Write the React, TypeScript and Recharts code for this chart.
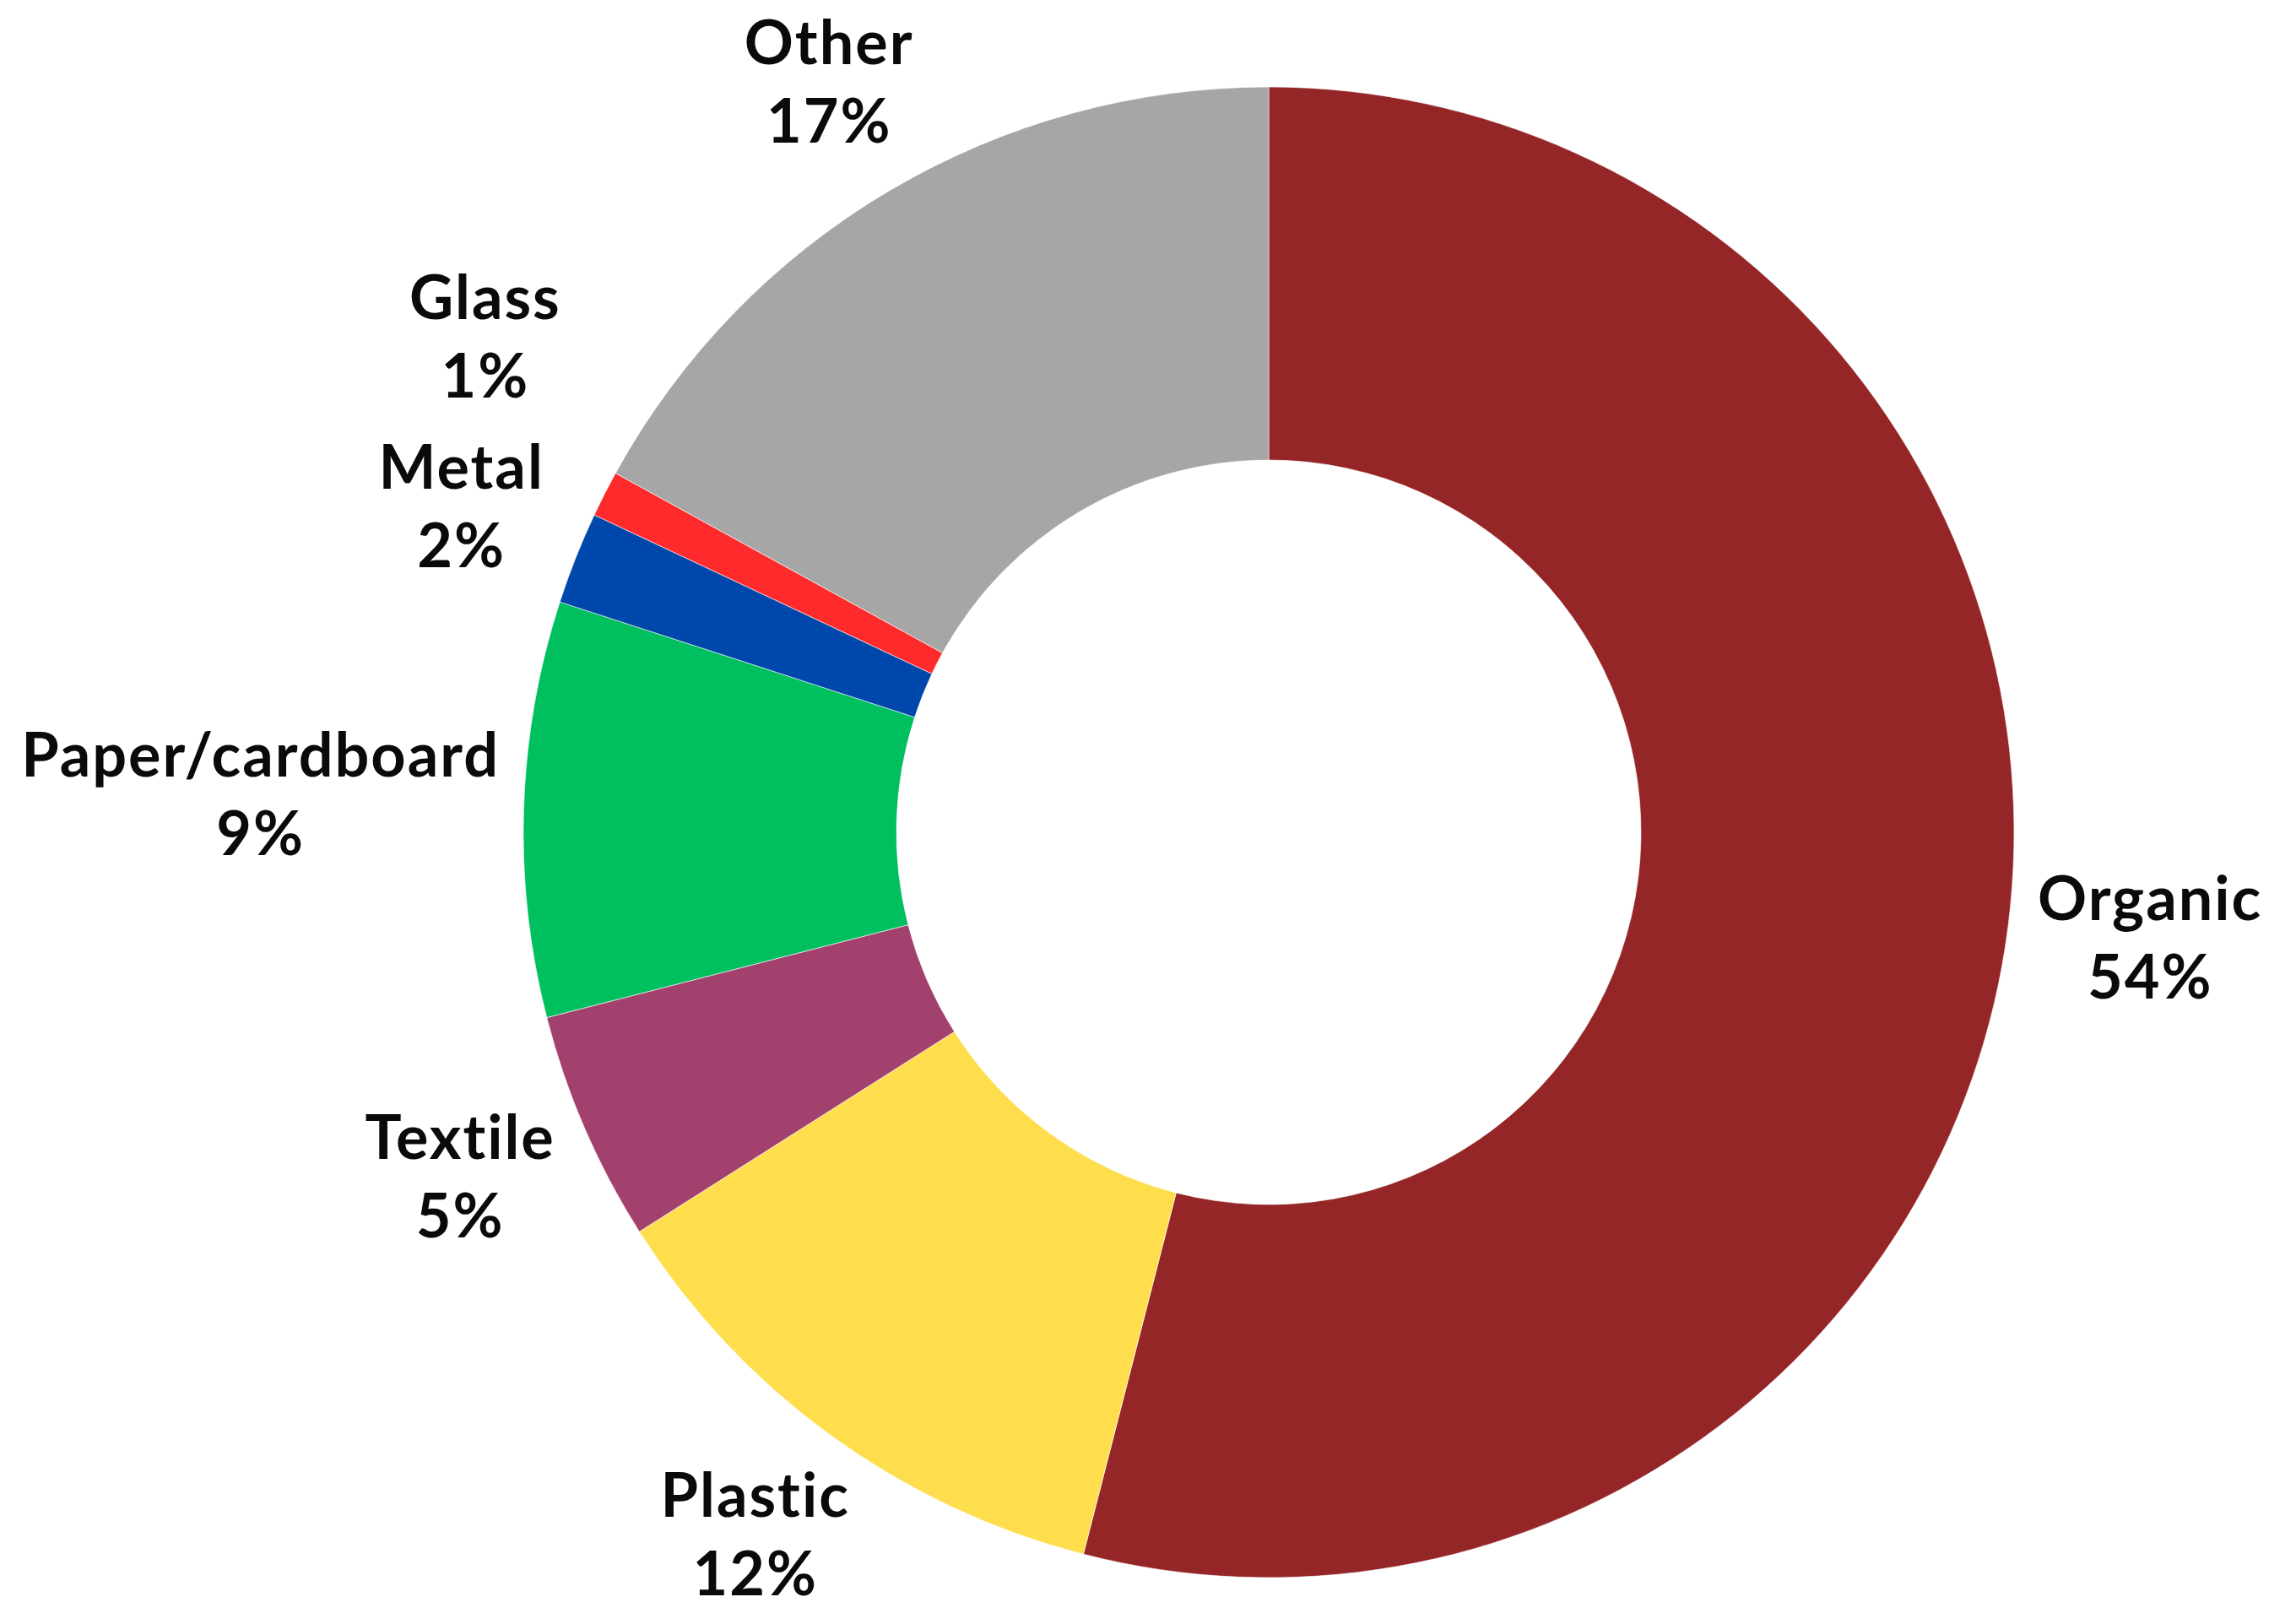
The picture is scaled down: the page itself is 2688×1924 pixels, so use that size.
import React from 'react';
import { PieChart, Pie, Cell } from 'recharts';

const categories = ['Organic', 'Plastic', 'Textile', 'Paper/cardboard', 'Metal', 'Glass', 'Other'];
const shares = [54, 12, 5, 9, 2, 1, 17];
const colors = ['#952628', '#FEDE4C', '#A3416E', '#00BF5E', '#0047AB', '#FF2A2C', '#A6A6A6'];

const data = categories.map((name, i) => ({ name, value: shares[i] }));

const W = 2688;
const H = 1924;
const FONT = 'Lato, "Open Sans", sans-serif';
const FONT_SIZE = 72;
const LETTER = 2;
const CAP = 53;
const LINE = 93;
const BOX_H = CAP + LINE;
const GAP = 30;
const MIN_SEP = 55;
const TEXT_SHIFT = -8;

let ctx: CanvasRenderingContext2D | null = null;
function measure(t: string): number {
  try {
    if (!ctx) ctx = document.createElement('canvas').getContext('2d');
    if (ctx) {
      ctx.font = `bold ${FONT_SIZE}px Lato`;
      return ctx.measureText(t).width + LETTER * (t.length - 1);
    }
  } catch (e) {}
  return t.length * FONT_SIZE * 0.55;
}

type Box = { x: number; y: number; w: number; h: number; up: boolean };

function boxDist(cx: number, cy: number, b: Box) {
  const nx = Math.max(b.x - b.w / 2, Math.min(cx, b.x + b.w / 2));
  const ny = Math.max(b.y - b.h / 2, Math.min(cy, b.y + b.h / 2));
  return Math.hypot(nx - cx, ny - cy);
}

function layout(cx: number, cy: number, outerR: number): Box[] {
  const total = shares.reduce((a, b) => a + b, 0);
  let acc = 0;
  const boxes: Box[] = [];
  shares.forEach((v, i) => {
    const mid = ((acc + v / 2) / total) * 2 * Math.PI;
    acc += v;
    const ux = Math.sin(mid);
    const uy = -Math.cos(mid);
    const w = Math.max(measure(categories[i]), measure(`${v}%`));
    let lo = 0;
    let hi = outerR * 3;
    for (let k = 0; k < 60; k++) {
      const d = (lo + hi) / 2;
      const b = { x: cx + ux * d, y: cy + uy * d, w, h: BOX_H, up: uy < 0 };
      if (boxDist(cx, cy, b) < outerR + GAP) lo = d;
      else hi = d;
    }
    const box: Box = { x: cx + ux * lo, y: cy + uy * lo, w, h: BOX_H, up: uy < 0 };
    for (const o of boxes) {
      const overlapX = Math.abs(box.x - o.x) < (box.w + o.w) / 2;
      const overlapY = Math.abs(box.y - o.y) < (box.h + o.h) / 2 + MIN_SEP;
      if (overlapX && overlapY) {
        if (box.up) box.y = o.y - (box.h + o.h) / 2 - MIN_SEP;
        else box.y = o.y + (box.h + o.h) / 2 + MIN_SEP;
        // keep the pushed label leaning outward along its own side
        box.x += ux * (box.w * 0.1);
      }
    }
    boxes.push(box);
  });
  return boxes;
}

const renderLabel = (props: any) => {
  const { cx, cy, outerRadius, index } = props;
  const boxes = layout(Number(cx), Number(cy), Number(outerRadius));
  const b = boxes[index];
  const top = b.y - b.h / 2 + TEXT_SHIFT;
  const common = {
    textAnchor: 'middle' as const,
    fontFamily: FONT,
    fontWeight: 700,
    fontSize: FONT_SIZE,
    letterSpacing: LETTER,
    fill: '#0a0a0a',
  };
  return (
    <g key={`lbl-${index}`}>
      <text x={b.x + LETTER / 2} y={top + CAP} {...common}>
        {categories[index]}
      </text>
      <text x={b.x + LETTER / 2} y={top + CAP + LINE} {...common}>
        {`${shares[index]}%`}
      </text>
    </g>
  );
};

export default function App() {
  return (
    <div style={{ position: 'absolute', left: 0, top: 0, width: W, height: H, background: '#fff' }}>
      <PieChart width={W} height={H} margin={{ top: 0, right: 0, bottom: 0, left: 0 }}>
        <Pie
          data={data}
          dataKey="value"
          nameKey="name"
          cx={1503}
          cy={986}
          innerRadius={441}
          outerRadius={883}
          startAngle={90}
          endAngle={-270}
          stroke="#ffffff"
          strokeWidth={0.6}
          label={renderLabel}
          labelLine={false}
          isAnimationActive={false}
        >
          {data.map((d, i) => (
            <Cell key={d.name} fill={colors[i]} />
          ))}
        </Pie>
      </PieChart>
    </div>
  );
}
